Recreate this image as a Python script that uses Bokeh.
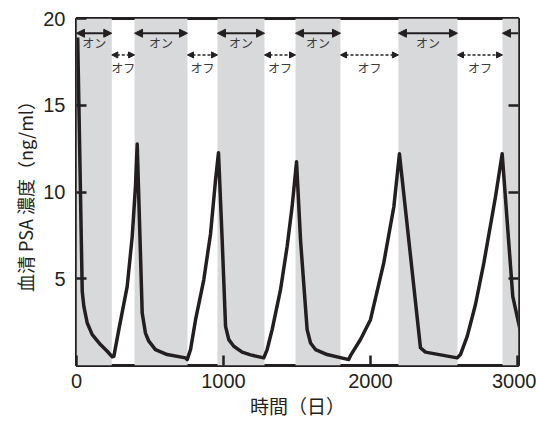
from bokeh.plotting import figure
from bokeh.models import (Range1d, FixedTicker, LinearAxis, Arrow, NormalHead,
                          CustomJSTickFormatter, ColumnDataSource)
from bokeh.core.properties import value
from bokeh.embed import file_html
from bokeh.resources import INLINE

# ---- data ----
days = [8, 39, 50, 73, 107, 163, 209, 243,
        254, 288, 345, 379, 401, 413,
        447, 469, 492, 537, 617, 741, 753,
        776, 810, 866, 912, 946, 966,
        991, 1014, 1036, 1070, 1127, 1184, 1274,
        1297, 1331, 1388, 1433, 1467, 1497,
        1524, 1569, 1592, 1626, 1705, 1852,
        1866, 1932, 2000, 2090, 2159, 2197,
        2340, 2374, 2590,
        2612, 2658, 2714, 2771, 2850, 2896,
        2968, 3020]
psa = [18.9, 4.27, 3.41, 2.45, 1.78, 1.21, 0.82, 0.50,
       0.53, 2.07, 4.56, 7.43, 10.3, 12.76,
       3.03, 1.87, 1.40, 0.92, 0.63, 0.44, 0.34,
       0.92, 2.64, 4.94, 7.6, 10.7, 12.26,
       7.24, 2.26, 1.49, 1.11, 0.77, 0.61, 0.44,
       0.92, 2.07, 4.37, 6.86, 9.16, 11.74,
       7.24, 2.07, 1.30, 0.92, 0.63, 0.34,
       0.6, 1.5, 2.64, 5.9, 9.15, 12.2,
       1.02, 0.77, 0.44,
       0.63, 1.68, 3.5, 5.9, 9.7, 12.2,
       3.98, 1.97]

on_starts = [0, 395, 959, 1490, 2190, 2898]
on_ends = [240, 755, 1279, 1796, 2592, 3007]
on_label = "オン"
off_label = "オフ"

x_ticks = [0, 1000, 2000, 3000]
y_ticks = [5, 10, 15, 20]
x_title = "時間（日）"
y_title = "血清 PSA 濃度（ng/ml）"

INK = "#231f20"
BAND = "#d8d9db"
JP = "Noto Sans CJK JP"
NUM = "Liberation Sans"

p = figure(width=536, height=421, output_backend="svg", toolbar_location=None,
           x_range=Range1d(0, 3007), y_range=Range1d(0, 20),
           min_border_left=76, min_border_right=18, min_border_top=18,
           min_border_bottom=55)
p.grid.visible = False
p.outline_line_color = INK
p.outline_line_width = 3
p.background_fill_color = "white"
p.border_fill_color = "white"

# shaded "on" periods
p.quad(left=on_starts, right=on_ends, bottom=0, top=20,
       fill_color=BAND, line_color=None)

# PSA curve
p.line(days, psa, line_color=INK, line_width=3.5, line_join="round")

# axes
for ax in (p.xaxis[0], p.yaxis[0]):
    ax.axis_line_color = None
    ax.major_tick_in = 10
    ax.major_tick_out = 0
    ax.minor_tick_line_color = None
    ax.major_tick_line_width = 2.5
    ax.major_tick_line_color = INK
    ax.major_label_text_font = NUM
    ax.major_label_text_font_size = "20px"
    ax.major_label_text_color = INK
    ax.axis_label_text_font = JP
    ax.axis_label_text_font_style = "normal"
    ax.axis_label_text_color = INK

p.xaxis[0].ticker = FixedTicker(ticks=x_ticks)
p.xaxis[0].major_label_standoff = 8
p.xaxis[0].axis_label = x_title
p.xaxis[0].axis_label_text_font_size = "19px"
p.xaxis[0].axis_label_standoff = 1

p.yaxis[0].ticker = FixedTicker(ticks=y_ticks)
p.yaxis[0].major_label_standoff = 11
p.yaxis[0].axis_label = y_title
p.yaxis[0].axis_label_text_font_size = "18px"
p.yaxis[0].axis_label_standoff = 2

right = LinearAxis(ticker=FixedTicker(ticks=y_ticks[:-1]),
                   formatter=CustomJSTickFormatter(code="return ''"),
                   axis_line_color=None, major_tick_in=10, major_tick_out=0,
                   major_tick_line_width=2.5, major_tick_line_color=INK,
                   minor_tick_line_color=None, major_label_standoff=0)
p.add_layout(right, "right")

# on / off arrows
y_on_arrow, y_on_text = 19.15, 18.6
y_off_arrow, y_off_text = 17.9, 17.15
for i, (s, e) in enumerate(zip(on_starts, on_ends)):
    last = i == len(on_starts) - 1
    p.add_layout(Arrow(x_start=s, x_end=e, y_start=y_on_arrow, y_end=y_on_arrow,
                       line_color=INK, line_width=2,
                       start=NormalHead(size=8, fill_color=INK, line_color=INK),
                       end=None if last else NormalHead(size=8, fill_color=INK, line_color=INK)))
for s, e in zip(on_ends[:-1], on_starts[1:]):
    p.add_layout(Arrow(x_start=s, x_end=e, y_start=y_off_arrow, y_end=y_off_arrow,
                       line_color=INK, line_width=1.5, line_dash="3 2",
                       start=NormalHead(size=6, fill_color=INK, line_color=INK),
                       end=NormalHead(size=6, fill_color=INK, line_color=INK)))

on_src = ColumnDataSource(dict(
    x=[(s + e) / 2 for s, e in zip(on_starts[:-1], on_ends[:-1])],
    y=[y_on_text] * (len(on_starts) - 1),
    t=[on_label] * (len(on_starts) - 1)))
off_src = ColumnDataSource(dict(
    x=[(s + e) / 2 for s, e in zip(on_ends[:-1], on_starts[1:])],
    y=[y_off_text] * (len(on_starts) - 1),
    t=[off_label] * (len(on_starts) - 1)))
for src in (on_src, off_src):
    p.text(x="x", y="y", text="t", source=src, text_align="center",
           text_baseline="middle", text_font=value(JP), text_font_size="12px",
           text_color="#3a3a3a")

open("out.html", "w").write(file_html(p, INLINE))
